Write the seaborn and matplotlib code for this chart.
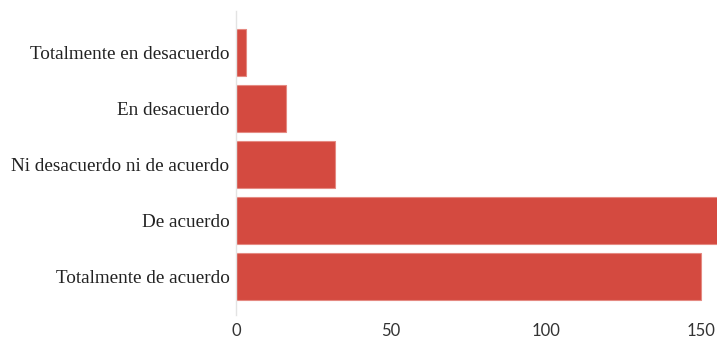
import matplotlib
matplotlib.use("Agg")
import matplotlib.pyplot as plt
import seaborn as sns
import pandas as pd

categories = ["Totalmente en desacuerdo", "En desacuerdo", "Ni desacuerdo ni de acuerdo",
              "De acuerdo", "Totalmente de acuerdo"]
values = [3, 16, 32, 158, 150]
xticks = [0, 50, 100, 150]

df = pd.DataFrame({"cat": categories, "val": values})

sns.set_style("white")
fig = plt.figure(figsize=(7.17, 3.39), dpi=100)
ax = fig.add_axes([0.3298, 0.0708, 0.6702, 0.8968])
sns.barplot(data=df, x="val", y="cat", orient="h", color="#d44a40", saturation=1,
            width=0.84, edgecolor="#e58a82", linewidth=0.8, ax=ax)
ax.set_xlim(0, 155.3)
ax.set_ylim(4.69, -0.75)
ax.set_xticks(xticks)
ax.set_xticklabels([str(t) for t in xticks], family="Lato", fontsize=12, color="#333333")
for lab in ax.get_yticklabels():
    lab.set_family("Liberation Serif")
    lab.set_fontsize(13.8)
    lab.set_color("#222222")
ax.tick_params(axis="y", length=0, pad=5)
ax.tick_params(axis="x", length=0, pad=6)
ax.set_xlabel("")
ax.set_ylabel("")
for s in ["top", "right", "bottom"]:
    ax.spines[s].set_visible(False)
ax.spines["left"].set_color("#e3e3e3")
ax.spines["left"].set_linewidth(1)
fig.savefig("out.png", dpi=100)
